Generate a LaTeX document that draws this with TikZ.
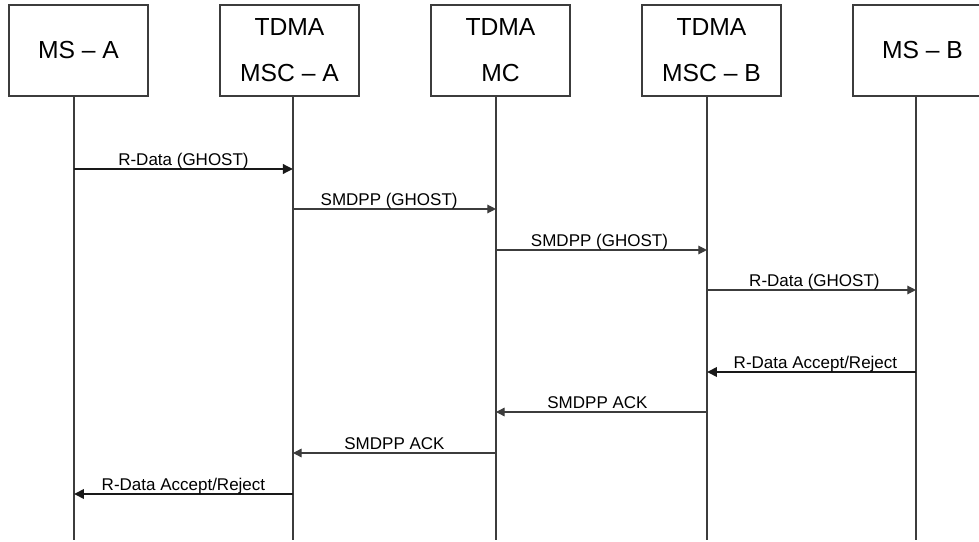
\documentclass[tikz,border=0pt]{standalone}
\usepackage{fontspec}
\setmainfont{Liberation Sans}
\usetikzlibrary{arrows.meta, positioning}
\definecolor{linegray}{RGB}{60,60,60}

\begin{document}
\begin{tikzpicture}[
    x=0.75pt, y=0.75pt,
    ent/.style={rectangle, draw=linegray, line width=1pt, outer sep=0pt, inner sep=0pt, minimum width=104.25pt, minimum height=68.25pt, align=center, font=\fontsize{18.5pt}{34.5pt}\selectfont},
    life/.style={draw=linegray, line width=0.9pt},
    msg/.style={-{Triangle[length=6.5pt, width=6.5pt]}, line width=0.9pt, linegray},
    msgb/.style={-{Triangle[length=7.5pt, width=7pt]}, line width=1.8pt, black!90},
    lbl/.style={font=\fontsize{12.75pt}{15pt}\selectfont, text=black, anchor=base, yshift=2.5pt, inner sep=0pt}
]
\useasboundingbox (0,0) rectangle (979,-542);

\node[ent] (msa) at (78.5,-50.5) {MS – A};
\node[ent, right=54pt of msa] (msca) {TDMA\\MSC – A};
\node[ent, right=54pt of msca] (mc) {TDMA\\MC};
\node[ent, right=54pt of mc] (mscb) {TDMA\\MSC – B};
\node[ent, right=54pt of mscb] (msb) {MS – B};

\coordinate (la) at ([xshift=-3.4pt]msa.south);
\coordinate (lb) at ([xshift=2.6pt]msca.south);
\coordinate (lc) at ([xshift=-3.4pt]mc.south);
\coordinate (ld) at ([xshift=-3.4pt]mscb.south);
\coordinate (le) at ([xshift=-4.9pt]msb.south);
\coordinate (bot) at (0,-540);

\draw[life] (la) -- (la |- bot);
\draw[life] (lb) -- (lb |- bot);
\draw[life] (lc) -- (lc |- bot);
\draw[life] (ld) -- (ld |- bot);
\draw[life] (le) -- (le |- bot);

\coordinate (r1) at (0,-169);
\coordinate (r2) at (0,-209);
\coordinate (r3) at (0,-250);
\coordinate (r4) at (0,-290);
\coordinate (r5) at (0,-372);
\coordinate (r6) at (0,-412);
\coordinate (r7) at (0,-453);
\coordinate (r8) at (0,-494);

\draw[msgb] (la |- r1) -- (lb |- r1) node[midway, lbl]{R-Data (GHOST)};
\draw[msg] (lb |- r2) -- (lc |- r2) node[midway, lbl, xshift=-4pt]{SMDPP (GHOST)};
\draw[msg] (lc |- r3) -- (ld |- r3) node[midway, lbl, xshift=-1.5pt]{SMDPP (GHOST)};
\draw[msg] (ld |- r4) -- (le |- r4) node[midway, lbl, xshift=2.2pt]{R-Data (GHOST)};
\draw[msgb] (le |- r5) -- (ld |- r5) node[midway, lbl, xshift=3pt]{R-Data Accept/Reject};
\draw[msg] (ld |- r6) -- (lc |- r6) node[midway, lbl, xshift=-3pt]{SMDPP ACK};
\draw[msg] (lc |- r7) -- (lb |- r7) node[midway, lbl]{SMDPP ACK};
\draw[msgb] (lb |- r8) -- (la |- r8) node[midway, lbl]{R-Data Accept/Reject};
\end{tikzpicture}
\end{document}
